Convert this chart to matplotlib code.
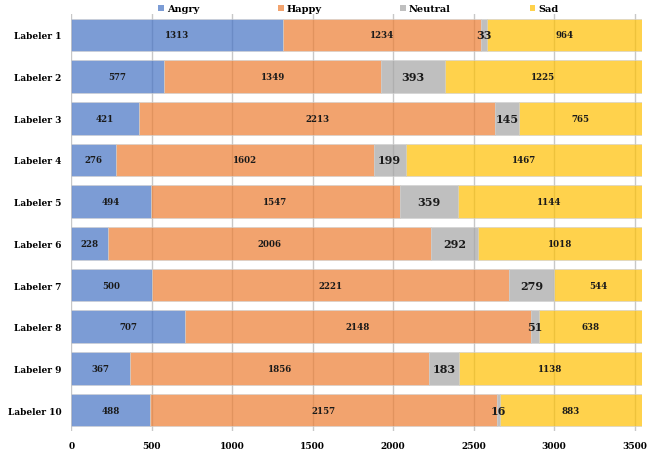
import matplotlib
matplotlib.use("Agg")
import matplotlib.pyplot as plt
import numpy as np

labelers = ["Labeler 1", "Labeler 2", "Labeler 3", "Labeler 4", "Labeler 5",
            "Labeler 6", "Labeler 7", "Labeler 8", "Labeler 9", "Labeler 10"]
angry = [1313, 577, 421, 276, 494, 228, 500, 707, 367, 488]
happy = [1234, 1349, 2213, 1602, 1547, 2006, 2221, 2148, 1856, 2157]
neutral = [33, 393, 145, 199, 359, 292, 279, 51, 183, 16]
sad = [964, 1225, 765, 1467, 1144, 1018, 544, 638, 1138, 883]
series_names = ["Angry", "Happy", "Neutral", "Sad"]
colors = ["#4472C4", "#ED7D31", "#A5A5A5", "#FFC000"]
xticks = [0, 500, 1000, 1500, 2000, 2500, 3000, 3500]

plt.rcParams['font.family'] = ['DejaVu Serif']
plt.rcParams['font.weight'] = 'bold'

fig = plt.figure(figsize=(6.55, 4.52), dpi=100)
ax = fig.add_axes([71.3/655, 20/452, 570.4/655, 417/452])

y = np.arange(len(labelers))
left = np.zeros(len(labelers))
series = [angry, happy, neutral, sad]
for name, vals, col in zip(series_names, series, colors):
    vals = np.array(vals)
    ax.barh(y, vals, left=left, height=0.78, color=col, alpha=0.7,
            edgecolor='#d0d0d0', linewidth=0.6, label=name, zorder=2)
    for yi, l, v in zip(y, left, vals):
        fs = 8.0 if name == "Neutral" else 6.2
        ax.text(l + v/2, yi, str(v), ha='center', va='center',
                fontsize=fs, fontweight='bold', color='#1a1a1a', zorder=3)
    left = left + vals

ax.set_xlim(0, 3544)
ax.set_ylim(len(labelers) - 0.5, -0.5)
ax.set_yticks(y)
ax.set_yticklabels(labelers, fontsize=6.5, fontweight='bold')
ax.set_xticks(xticks)
ax.set_xticklabels([str(t) for t in xticks], fontsize=6.5, fontweight='bold')
ax.tick_params(axis='y', length=0, pad=7)
ax.tick_params(axis='x', length=0, pad=7)
for s in ax.spines.values():
    s.set_visible(False)
ax.xaxis.grid(True, color='#c8c8c8', linewidth=1.0, zorder=0)
ax.set_axisbelow(True)

leg = fig.legend(loc='center', bbox_to_anchor=(0.547, 1 - 10/452), ncol=4,
                 frameon=False, fontsize=7, handlelength=0.6, handleheight=0.6,
                 handletextpad=0.3, columnspacing=8.1, borderaxespad=0)
for h in leg.legend_handles:
    h.set_alpha(0.7)
    h.set_edgecolor('none')

fig.savefig("out.png", dpi=100)
